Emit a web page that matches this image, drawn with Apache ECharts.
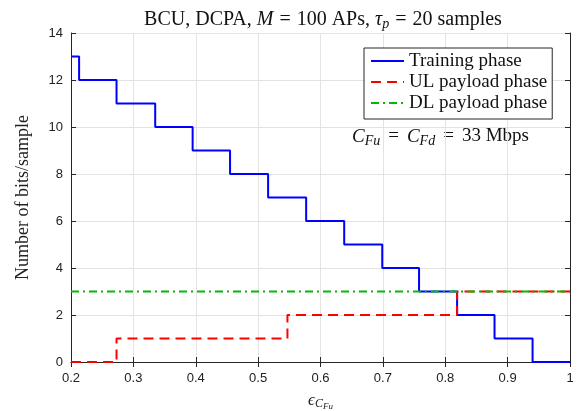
<!DOCTYPE html>
<html><head><meta charset="utf-8">
<script src="https://cdn.jsdelivr.net/npm/echarts@6/dist/echarts.min.js"></script>
<style>html,body{margin:0;padding:0;background:#fff}#c{width:583px;height:411px}</style>
</head><body><div id="c"></div>
<script>
const trainX = [0.2, 0.213, 0.273, 0.335, 0.395, 0.455, 0.516, 0.577, 0.638, 0.699, 0.758, 0.819, 0.879, 0.940, 1.0];
const trainY = [13, 12, 11, 10, 9, 8, 7, 6, 5, 4, 3, 2, 1, 0, 0];
const ulX = [0.2, 0.273, 0.547, 0.819, 1.0];
const ulY = [0, 1, 2, 3, 3];
const dlX = [0.2, 1.0];
const dlY = [3, 3];
const xTicks = [0.2, 0.3, 0.4, 0.5, 0.6, 0.7, 0.8, 0.9, 1];
const yTicks = [0, 2, 4, 6, 8, 10, 12, 14];
const names = ['Training phase', 'UL payload phase', 'DL payload phase'];

const zip = (a, b) => a.map((v, i) => [v, b[i]]);
const serif = '"Liberation Serif", "DejaVu Serif", serif';
const sans = '"Liberation Sans", Arial, sans-serif';
const axisCol = '#262626';
const txt = '#111';

const chart = echarts.init(document.getElementById('c'), null, {renderer: 'canvas'});
const baseX = {type: 'value', min: 0.2, max: 1, interval: 0.1};
const baseY = {type: 'value', min: 0, max: 14, interval: 2};
const mathRich = (fs, key, sub, qp) => ({
  n: {fontFamily: serif, fontSize: fs, fontWeight: 'normal', [key]: txt},
  i: {fontFamily: serif, fontSize: fs, fontStyle: 'italic', fontWeight: 'normal', [key]: txt},
  q: {fontFamily: serif, fontSize: fs, fontWeight: 'normal', [key]: txt, padding: [0, qp, 0, qp]},
  s: {fontFamily: serif, fontSize: sub, fontStyle: 'italic', fontWeight: 'normal', [key]: txt, padding: [9, 0, 0, 0]}
});
chart.setOption({
  animation: false,
  backgroundColor: '#fff',
  grid: {left: 71, right: 13, top: 33, bottom: 49, containLabel: false, outerBoundsMode: 'none'},
  title: {
    text: '{n|BCU, DCPA, }{i|M}{q|=}{n|100 APs, }{i|τ}{s|p}{q|=}{n|20 samples}',
    left: 318, top: 3, textAlign: 'center',
    textStyle: {fontWeight: 'normal', rich: mathRich(20, 'color', 14, 6)}
  },
  legend: {
    orient: 'vertical', left: 364, top: 48,
    data: names,
    itemWidth: 33, itemHeight: 14, itemGap: 1,
    padding: [3, 5, 6, 6],
    backgroundColor: '#fff', borderColor: axisCol, borderWidth: 1, borderRadius: 0,
    itemStyle: {color: 'transparent', borderWidth: 0, opacity: 0},
    textStyle: {fontFamily: serif, fontSize: 19, lineHeight: 20, color: txt}
  },
  xAxis: [
    Object.assign({}, baseX, {
      position: 'bottom',
      axisLine: {show: true, lineStyle: {color: axisCol, width: 1}},
      axisTick: {show: true, inside: true, length: 5, lineStyle: {color: axisCol}},
      axisLabel: {fontFamily: sans, fontSize: 13, color: '#222', margin: 10,
        formatter: v => { const t = xTicks.find(q => Math.abs(q - v) < 1e-6); return t === undefined ? '' : String(t); }},
      splitLine: {show: true, lineStyle: {color: '#e3e3e3', width: 1}},
      name: '{e|ϵ}{c|C}{f|Fu}', nameLocation: 'middle', nameGap: 28,
      nameTextStyle: {rich: {
        e: {fontFamily: serif, fontSize: 17, fontStyle: 'italic', color: '#222'},
        c: {fontFamily: serif, fontSize: 12, fontStyle: 'italic', color: '#222', padding: [7, 0, 0, 0]},
        f: {fontFamily: serif, fontSize: 9, fontStyle: 'italic', color: '#222', padding: [12, 0, 0, 0]}
      }}
    }),
    Object.assign({}, baseX, {
      position: 'top',
      axisLine: {show: true, lineStyle: {color: axisCol, width: 1}},
      axisTick: {show: true, inside: true, length: 5, lineStyle: {color: axisCol}},
      axisLabel: {show: false}, splitLine: {show: false}
    })
  ],
  yAxis: [
    Object.assign({}, baseY, {
      position: 'left',
      axisLine: {show: true, lineStyle: {color: axisCol, width: 1}},
      axisTick: {show: true, inside: true, length: 5, lineStyle: {color: axisCol}},
      axisLabel: {fontFamily: sans, fontSize: 13, color: '#222', margin: 8,
        formatter: v => yTicks.indexOf(v) >= 0 ? String(v) : ''},
      splitLine: {show: true, lineStyle: {color: '#e3e3e3', width: 1}},
      name: 'Number of bits/sample', nameLocation: 'middle', nameGap: 39,
      nameTextStyle: {fontFamily: serif, fontSize: 18, color: '#222'}
    }),
    Object.assign({}, baseY, {
      position: 'right',
      axisLine: {show: true, lineStyle: {color: axisCol, width: 1}},
      axisTick: {show: true, inside: true, length: 5, lineStyle: {color: axisCol}},
      axisLabel: {show: false}, splitLine: {show: false}
    })
  ],
  series: [
    {name: names[0], type: 'line', step: 'end', data: zip(trainX, trainY), symbol: 'none',
     lineStyle: {color: '#0000ff', width: 2}, itemStyle: {color: '#0000ff'}, z: 3},
    {name: names[1], type: 'line', step: 'end', data: zip(ulX, ulY), symbol: 'none',
     lineStyle: {color: '#ff0000', width: 2, type: [10, 6]}, itemStyle: {color: '#ff0000'}, z: 4},
    {name: names[2], type: 'line', data: zip(dlX, dlY), symbol: 'none',
     lineStyle: {color: '#00bb00', width: 2, type: [8, 4, 2, 4]}, itemStyle: {color: '#00bb00'}, z: 5}
  ],
  graphic: [{
    type: 'text', left: 352, top: 127,
    style: {
      text: '{i|C}{s|Fu}{q|=}{i|C}{s|Fd}{q|=}{n|33 Mbps}',
      rich: mathRich(19, 'fill', 14, 8)
    }
  }]
});
</script></body></html>
